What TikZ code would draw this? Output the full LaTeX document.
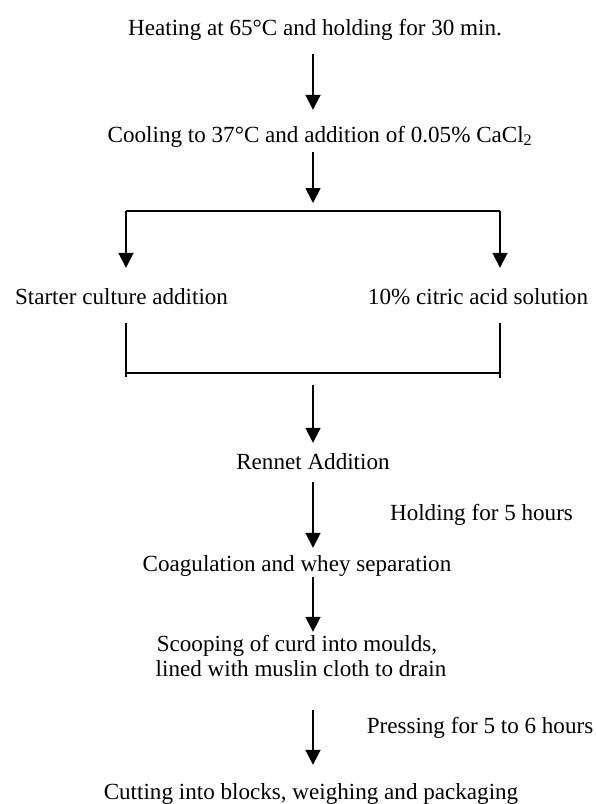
\documentclass[tikz,border=0pt]{standalone}
\usepackage{fontspec}
\setmainfont{Liberation Serif}
\usetikzlibrary{arrows.meta}

\begin{document}
\begin{tikzpicture}[x=1pt,y=-1pt]

          % Definitions
          \tikzstyle{stage} = [inner sep=0pt, text height=16pt, text depth=5pt, anchor=base, font=\fontsize{23.1}{27.7}\selectfont]
          \tikzstyle{note} = [stage]
          \tikzstyle{line} = [line width=1.8pt]
          \tikzstyle{arrow} = [line, -{Triangle[width=15pt,length=15pt]}]

          \useasboundingbox (0,0) rectangle (596,804);

          \coordinate (split) at (313,211);
          \coordinate (splitL) at (126,211);
          \coordinate (splitR) at (500,211);
          \coordinate (join) at (313,373);
          \coordinate (joinL) at (126,373);
          \coordinate (joinR) at (500,373);

          \node (heat) [stage] at (315,35) {Heating at 65°C and holding for 30 min.};
          \node (cool) [stage] at (320,142) {Cooling to 37°C and addition of 0.05\% CaCl\textsubscript{2}};
          \node (starter) [stage] at (121.5,304) {Starter culture addition};
          \node (citric) [stage] at (478,304) {10\% citric acid solution};
          \node (rennet) [stage] at (313,469) {Rennet Addition};
          \node (hold) [note] at (481.5,520) {Holding for 5 hours};
          \node (coag) [stage] at (297,571) {Coagulation and whey separation};
          \node (scoop) [stage] at (297,651) {Scooping of curd into moulds,};
          \node (scoopb) [stage] at (301,676) {lined with muslin cloth to drain};
          \node (press) [note] at (480,733) {Pressing for 5 to 6 hours};
          \node (cut) [stage] at (311,799) {Cutting into blocks, weighing and packaging};

          \draw [arrow, shorten <=14pt, shorten >=16pt] (heat.south -| split) -- (cool.north -| split);
          \draw [arrow, shorten <=5pt, shorten >=8pt] (cool.south -| split) -- (split);
          \draw [line] (splitL) -- (splitR);
          \draw [arrow, shorten >=20pt] (splitL) -- (starter.north -| splitL);
          \draw [arrow, shorten >=20pt] (splitR) -- (citric.north -| splitR);
          \draw [line, shorten <=14pt, shorten >=-4pt] (starter.south -| joinL) -- (joinL);
          \draw [line, shorten <=14pt, shorten >=-5pt] (citric.south -| joinR) -- (joinR);
          \draw [line] (joinL) -- (joinR);
          \draw [arrow, shorten <=12pt, shorten >=10pt] (join) -- (rennet.north -| join);
          \draw [arrow, shorten <=8pt, shorten >=7pt] (rennet.south -| split) -- (coag.north -| split);
          \draw [arrow, shorten <=1pt, shorten >=3pt] (coag.south -| split) -- (scoop.north -| split);
          \draw [arrow, shorten <=29pt, shorten >=18pt] (scoopb.south -| split) -- (cut.north -| split);

        \end{tikzpicture}
\end{document}
